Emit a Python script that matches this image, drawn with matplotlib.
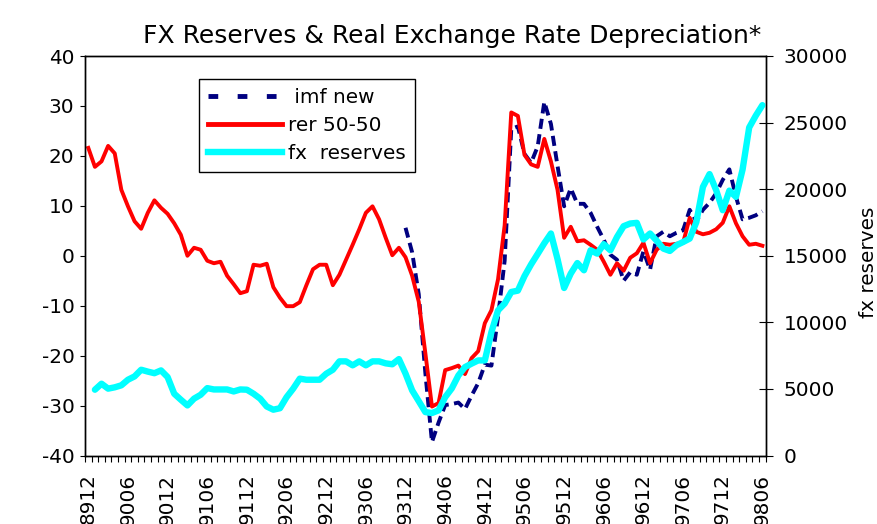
import numpy as np
import matplotlib
matplotlib.use("Agg")
import matplotlib.pyplot as plt
from matplotlib.lines import Line2D

plt.rcParams['font.family'] = ['DejaVu Sans']
plt.rcParams['axes.unicode_minus'] = False

# Monthly observations 1989-12 .. 1998-06 (103 months)
tick_labels = ['8912', '9006', '9012', '9106', '9112', '9206', '9212', '9306', '9312',
               '9406', '9412', '9506', '9512', '9606', '9612', '9706', '9712', '9806']

rer_50_50 = [21.6, 17.8, 18.9, 22.0, 20.5, 13.2, 9.9, 6.9, 5.4, 8.6,
             11.1, 9.6, 8.4, 6.5, 4.2, 0.0, 1.6, 1.2, -1.0, -1.5,
             -1.2, -4.0, -5.7, -7.5, -7.1, -1.8, -2.0, -1.6, -6.3, -8.4,
             -10.1, -10.1, -9.3, -5.9, -2.7, -1.8, -1.8, -5.9, -3.8, -0.8,
             2.2, 5.3, 8.6, 9.9, 7.3, 3.6, 0.1, 1.6, -0.3, -4.0,
             -9.2, -19.5, -30.2, -29.5, -22.9, -22.5, -22.0, -23.7, -20.5, -19.1,
             -13.5, -10.9, -4.7, 6.1, 28.7, 28.0, 20.2, 18.3, 17.8, 23.4,
             18.9, 13.2, 3.6, 5.8, 2.9, 3.1, 2.2, 1.2, -1.2, -3.8,
             -1.5, -3.0, -0.4, 0.5, 2.6, -1.5, 1.2, 2.4, 2.2, 2.4,
             2.6, 7.6, 4.8, 4.3, 4.6, 5.3, 6.6, 9.9, 6.5, 3.9,
             2.2, 2.4, 2.0]

nan = float('nan')
imf_new = [nan] * 48 + [
             5.6, 0.7,
             -7.7, -23.5, -37.3, -33.4, -29.9, -29.7, -29.4, -30.7, -28.0, -25.5,
             -21.8, -22.0, -12.2, -1.0, 25.4, 25.9, 20.4, 18.6, 21.9, 30.8,
             26.4, 18.0, 9.9, 13.5, 10.4, 10.4, 8.6, 5.8, 3.2, 0.2,
             -0.8, -5.0, -3.3, -3.8, 0.9, -2.8, 3.9, 4.8, 3.9, 4.6,
             5.1, 9.2, 6.9, 9.2, 10.6, 12.5, 15.2, 17.3, 11.8, 7.3,
             7.6, 8.1, 8.9]

fx_reserves = [nan, 4940, 5390, 5020, 5120, 5270, 5690, 5940, 6440, 6300,
               6180, 6390, 5890, 4640, 4190, 3760, 4270, 4560, 5060, 4960,
               4960, 4960, 4810, 4960, 4940, 4640, 4270, 3680, 3440, 3550,
               4380, 5020, 5770, 5690, 5690, 5690, 6140, 6440, 7070, 7070,
               6770, 7070, 6770, 7070, 7070, 6920, 6850, 7240, 6150, 4890,
               4080, 3260, 3190, 3390, 4380, 5040, 6010, 6640, 6900, 7140,
               7140, 9270, 10900, 11410, 12280, 12380, 13470, 14350, 15140, 15940,
               16670, 14750, 12580, 13660, 14450, 13910, 15410, 15160, 15870, 15410,
               16410, 17220, 17420, 17470, 16220, 16670, 16130, 15540, 15360, 15790,
               16030, 16290, 17520, 20170, 21130, 19930, 18420, 19890, 19420, 21470,
               24630, 25520, 26310]

W, H = 877, 524
fig = plt.figure(figsize=(W / 100, H / 100), dpi=100)
fig.patch.set_facecolor('white')
ax = fig.add_axes([85 / W, 1 - 455.5 / H, (765.7 - 85) / W, (455.5 - 56) / H])
ax2 = ax.twinx()

x = np.arange(len(rer_50_50))
ax.plot(x, imf_new, color='#000080', lw=2.8, dashes=(2.6, 1.4), solid_capstyle='butt')
ax.plot(x, rer_50_50, color='#FF0000', lw=2.8, solid_joinstyle='round')
ax2.plot(x, fx_reserves, color='#00FFFF', lw=4.6, solid_joinstyle='round', solid_capstyle='round')

ax.set_xlim(-0.5, len(rer_50_50) - 0.5)
ax.set_ylim(-40, 40)
ax.set_yticks(np.arange(-40, 41, 10))
ax2.set_ylim(0, 30000)
ax2.set_yticks(np.arange(0, 30001, 5000))

ax.set_xticks(np.arange(0, len(rer_50_50), 6))
ax.set_xticklabels(tick_labels, rotation=90, ha='center', va='top')
ax.set_xticks(np.arange(-0.5, len(rer_50_50), 1), minor=True)
ax.tick_params(axis='x', which='major', length=0, pad=13, labelsize=14.4)
ax.tick_params(axis='x', which='minor', length=4.5, width=0.8, direction='out')
ax.tick_params(axis='y', which='major', length=3.6, width=0.8, direction='out', labelsize=14.4, pad=4)
ax2.tick_params(axis='y', which='major', length=9.4, width=0.8, direction='inout', labelsize=14.4, pad=8)

for a in (ax, ax2):
    for s in a.spines.values():
        s.set_linewidth(1.0)
        s.set_color('black')

fig.text(452 / W, 1 - 43.3 / H, 'FX Reserves & Real Exchange Rate Depreciation*',
         ha='center', va='baseline', fontsize=18)
fig.text(868 / W, 1 - 262 / H, 'fx reserves', rotation=90, ha='center', va='center',
         fontsize=14.4)

handles = [Line2D([], [], color='#000080', lw=3.5, dashes=(2.0, 4.0)),
           Line2D([], [], color='#FF0000', lw=3.5),
           Line2D([], [], color='#00FFFF', lw=4.6)]
labels = [' imf new', 'rer 50-50', 'fx  reserves']
leg = ax2.legend(handles, labels, loc='upper left',
                 bbox_to_anchor=(199.3 / W, 1 - 79 / H), bbox_transform=fig.transFigure,
                 fontsize=14.4, frameon=True, fancybox=False, shadow=False, framealpha=1,
                 edgecolor='black', borderpad=0.45, handlelength=3.7, handletextpad=0.3,
                 labelspacing=0.45, borderaxespad=0)
leg.get_frame().set_linewidth(1.0)

fig.savefig('out.png', dpi=100, facecolor='white')
